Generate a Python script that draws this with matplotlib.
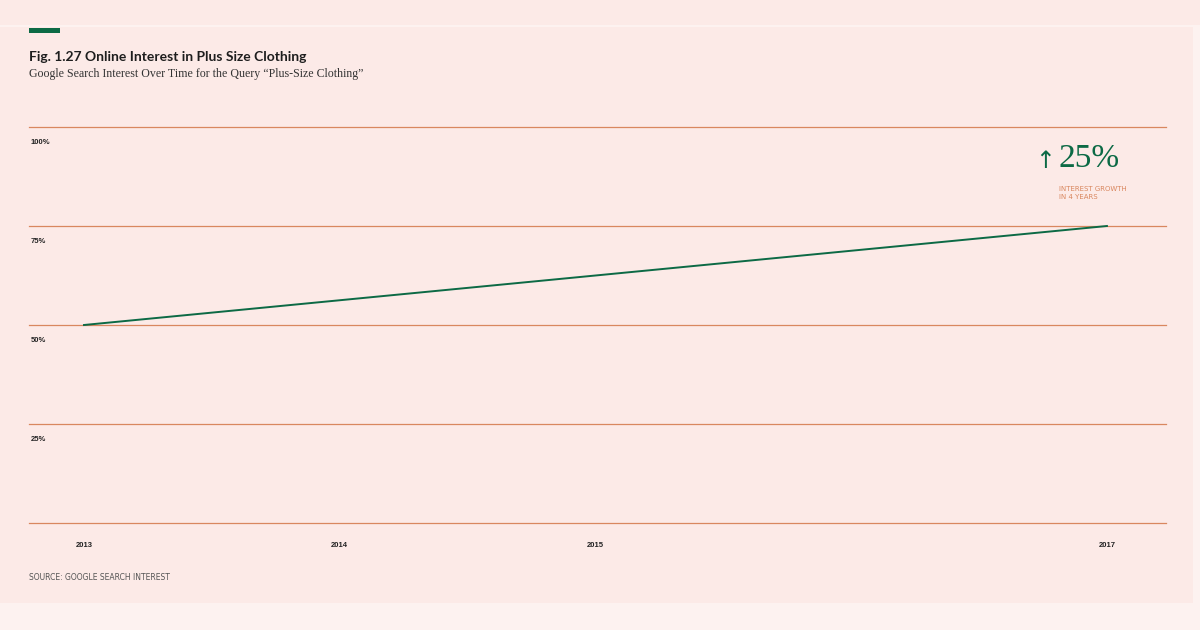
import matplotlib.pyplot as plt
from matplotlib.patches import Rectangle

# data
years = [2013, 2017]
interest = [50, 75]
ytick_vals = [0, 25, 50, 75, 100]
ytick_labels = ['', '25%', '50%', '75%', '100%']
xtick_years = [2013, 2014, 2015, 2017]
xtick_labels = ['2013', '2014', '2015', '2017']

green = '#0c6a45'
orange = '#d9875f'
panel = '#fceae7'

fig = plt.figure(figsize=(12, 6.3), dpi=100)
fig.patch.set_facecolor('#fdf2f0')

# pink panels
fig.add_artist(Rectangle((0, 1 - 25 / 630), 1, 25 / 630, transform=fig.transFigure,
                         facecolor=panel, edgecolor='none', zorder=0))
fig.add_artist(Rectangle((0, 1 - 603 / 630), 1193 / 1200, (603 - 27) / 630,
                         transform=fig.transFigure, facecolor=panel, edgecolor='none', zorder=0))
# green bar
fig.add_artist(Rectangle((29 / 1200, 1 - 33 / 630), 31 / 1200, 5 / 630,
                         transform=fig.transFigure, facecolor=green, edgecolor='none', zorder=1))

ax = fig.add_axes([29 / 1200, 1 - 523 / 630, (1166 - 29) / 1200, 396 / 630])
ax.set_facecolor('none')
ax.set_xlim(2012.785, 2017.231)
ax.set_ylim(0, 100)
for s in ax.spines.values():
    s.set_visible(False)
ax.set_xticks([])
ax.set_yticks([])

for v, lab in zip(ytick_vals, ytick_labels):
    ax.axhline(v, color=orange, lw=0.9, zorder=1, clip_on=False)
    ax.annotate(lab, xy=(0, v), xycoords=('axes fraction', 'data'),
                xytext=(1, -11), textcoords='offset points', fontsize=5.5,
                fontweight='bold', color='#222222', ha='left', va='center',
                family='Liberation Sans')

for yr, lab in zip(xtick_years, xtick_labels):
    ax.annotate(lab, xy=(yr, 0), xycoords=('data', 'data'),
                xytext=(0, -16), textcoords='offset points', fontsize=5.5,
                fontweight='bold', color='#222222', ha='center', va='center',
                family='Liberation Sans')

ax.plot(years, interest, color=green, lw=1.4, zorder=3)

# callout
fig.text(1045 / 1200, 1 - 161 / 630, '\u2191', fontsize=17, color=green,
         ha='center', va='center', family='DejaVu Sans')
fig.text(1059 / 1200, 1 - 159 / 630, '25%', fontsize=24, color=green,
         ha='left', va='center', family='Liberation Serif')
fig.text(1059 / 1200, 1 - 193 / 630, 'INTEREST GROWTH\nIN 4 YEARS', fontsize=5,
         color=orange, ha='left', va='center', linespacing=1.35, family='DejaVu Sans')

# titles
fig.text(29 / 1200, 1 - 57 / 630, 'Fig. 1.27 Online Interest in Plus Size Clothing',
         fontsize=10, fontweight='bold', color='#1e1e1e', ha='left', va='center',
         family=['Lato', 'DejaVu Sans'])
fig.text(29 / 1200, 1 - 74 / 630,
         'Google Search Interest Over Time for the Query \u201cPlus-Size Clothing\u201d',
         fontsize=8.6, color='#333333', ha='left', va='center', family='Liberation Serif')
fig.text(29 / 1200, 1 - 578 / 630, 'SOURCE: GOOGLE SEARCH INTEREST', fontsize=5.5,
         color='#555555', ha='left', va='center', family='DejaVu Sans')

fig.savefig('out.png', dpi=100, facecolor=fig.get_facecolor())
